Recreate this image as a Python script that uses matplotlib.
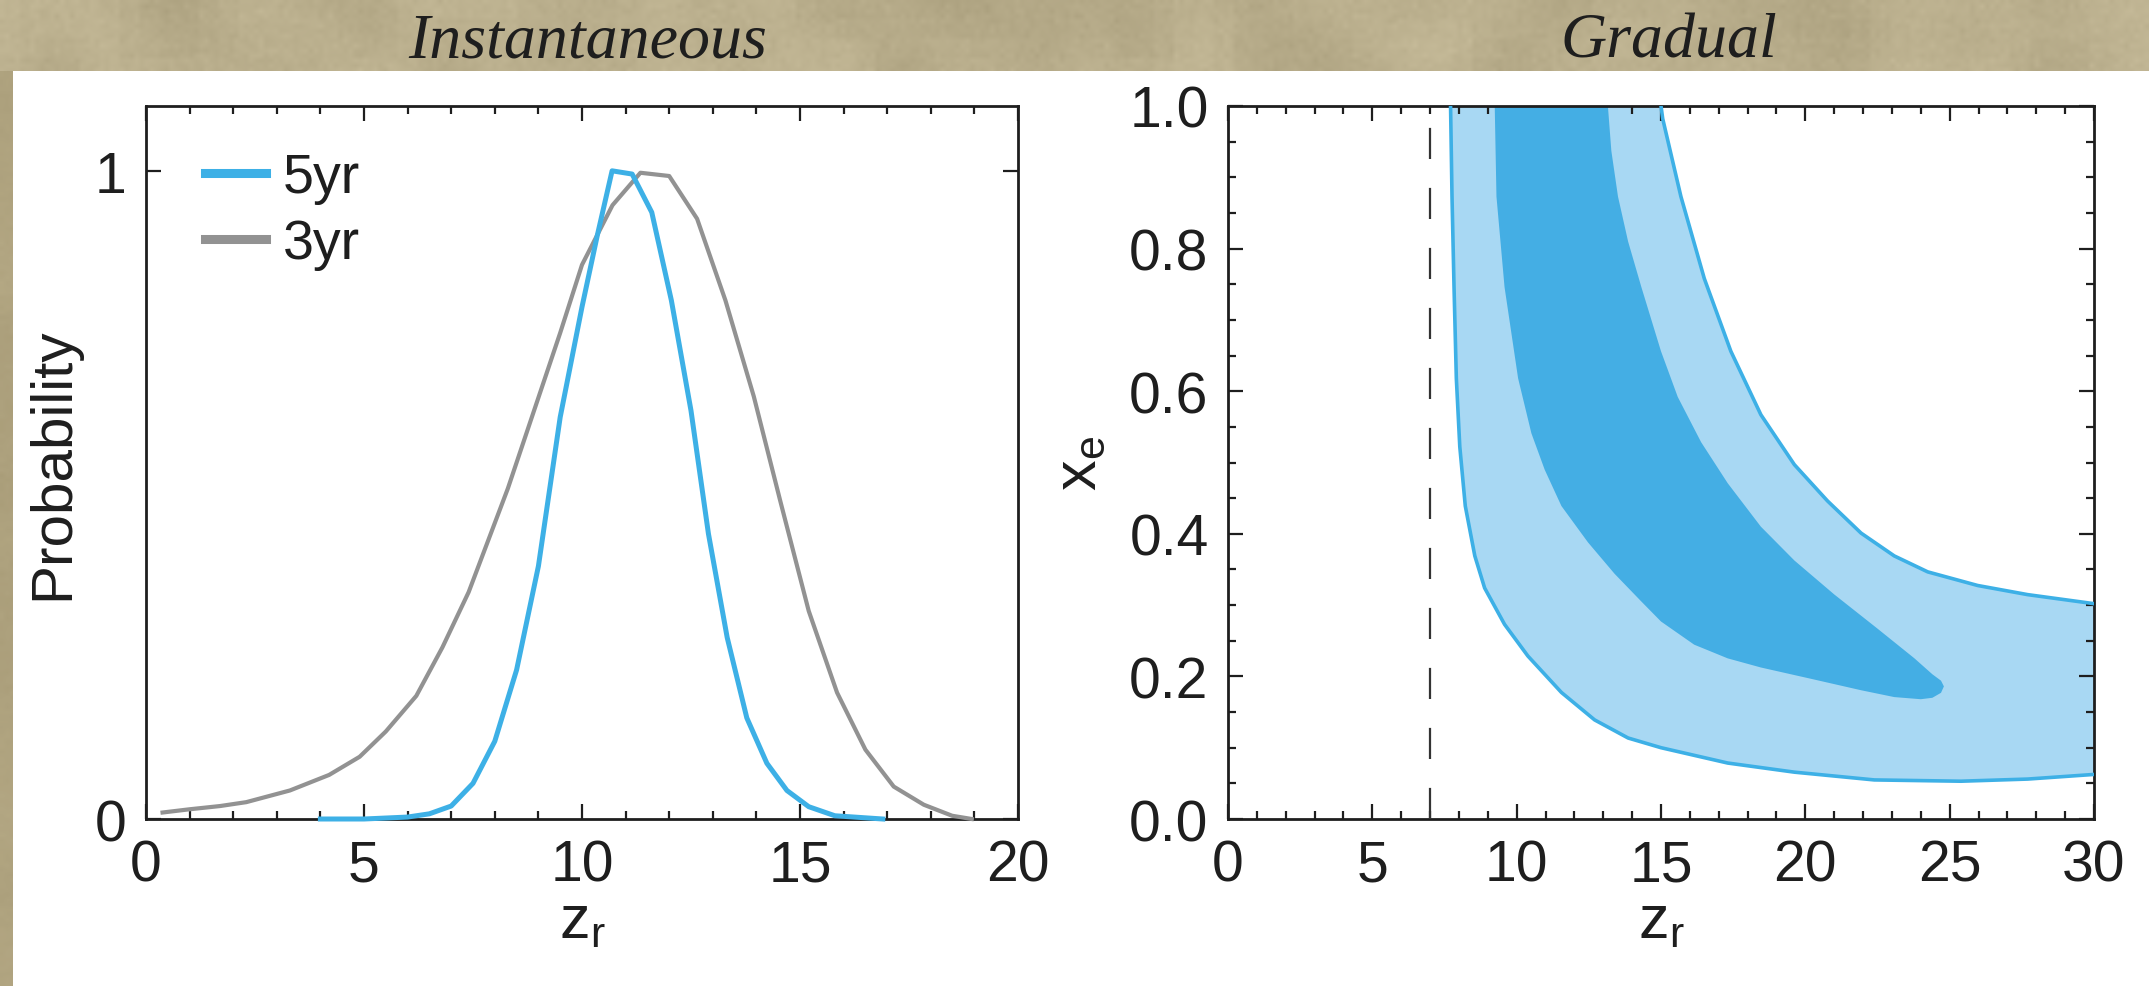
import numpy as np
import matplotlib.pyplot as plt
from matplotlib.patches import Rectangle
from matplotlib.lines import Line2D
from matplotlib.ticker import MultipleLocator

plt.rcParams['font.family'] = ['Liberation Sans', 'DejaVu Sans']
plt.rcParams['mathtext.default'] = 'regular'

# --- probability of reionization redshift (instantaneous model) ---
z_5yr = [4.0, 5.0, 6.0, 6.5, 7.0, 7.5, 8.0, 8.5, 9.0, 9.5, 10.0, 10.35, 10.69,
         11.15, 11.6, 12.05, 12.5, 12.9, 13.33, 13.78, 14.24, 14.7, 15.2, 15.8, 16.9]
p_5yr = [0.0, 0.0, 0.003, 0.008, 0.02, 0.055, 0.12, 0.23, 0.39, 0.62, 0.79, 0.9, 1.0,
         0.995, 0.936, 0.80, 0.63, 0.44, 0.28, 0.156, 0.086, 0.044, 0.019, 0.005, 0.0]

z_3yr = [0.38, 1.0, 1.7, 2.3, 3.3, 4.2, 4.9, 5.5, 6.2, 6.8, 7.4, 8.3, 8.9, 9.5, 10.0,
         10.7, 11.34, 12.0, 12.64, 13.29, 13.94, 14.55, 15.2, 15.85, 16.5, 17.15,
         17.84, 18.49, 18.94]
p_3yr = [0.01, 0.015, 0.02, 0.026, 0.044, 0.068, 0.096, 0.135, 0.19, 0.265, 0.35, 0.51,
         0.63, 0.75, 0.855, 0.947, 0.997, 0.992, 0.926, 0.80, 0.652, 0.49, 0.321, 0.195,
         0.107, 0.05, 0.022, 0.005, 0.0]

# --- x_e vs z_r confidence regions (gradual model) ---
# outer (95%) region: lower-left edge and upper-right edge
outer_lo_z = [7.70, 7.71, 7.76, 7.83, 7.91, 8.03, 8.22, 8.55, 8.89, 9.58, 10.39, 11.55,
              12.7, 13.86, 15.0, 17.31, 19.62, 22.39, 25.39, 27.7, 30.0, 30.5]
outer_lo_xe = [1.02, 1.0, 0.873, 0.746, 0.618, 0.522, 0.439, 0.369, 0.324, 0.273, 0.2285,
               0.1775, 0.139, 0.1136, 0.100, 0.0785, 0.0657, 0.0548, 0.053, 0.056,
               0.0625, 0.064]
outer_hi_z = [30.5, 30.0, 27.7, 25.97, 24.24, 23.08, 21.93, 20.77, 19.62, 18.46, 17.42,
              16.5, 15.69, 15.06, 15.0, 14.98]
outer_hi_xe = [0.299, 0.302, 0.3147, 0.3275, 0.3466, 0.369, 0.401, 0.446, 0.497, 0.567,
               0.656, 0.758, 0.873, 0.982, 1.0, 1.02]

# inner (68%) region, traced as one closed outline
inner_z = [9.24, 9.24, 9.30, 9.58, 10.05, 10.51, 10.97, 11.55, 12.47, 13.39, 14.32, 15.0,
           16.15, 17.31, 18.46, 20.2, 21.93, 23.08, 24.0, 24.4, 24.7, 24.8, 24.7, 24.4,
           23.78, 22.5, 21.0, 19.62, 18.46, 17.31, 16.39, 15.58, 15.0, 14.32, 13.86,
           13.51, 13.28, 13.16, 13.14]
inner_xe = [1.02, 1.0, 0.873, 0.746, 0.618, 0.541, 0.490, 0.439, 0.388, 0.344, 0.305,
            0.277, 0.2445, 0.2253, 0.2125, 0.1966, 0.1806, 0.171, 0.168, 0.170, 0.177,
            0.186, 0.194, 0.203, 0.2253, 0.267, 0.315, 0.3626, 0.41, 0.471, 0.5285,
            0.592, 0.656, 0.746, 0.810, 0.873, 0.937, 1.0, 1.02]

z_ref = 7.0

blue = '#3db0e6'
gray = '#929292'
light = '#a8d8f3'
dark = '#44aee4'
ink = '#1e1e1e'

W, H = 2149, 987
fig = plt.figure(figsize=(W / 100, H / 100), dpi=100)

# parchment backdrop
bg = fig.add_axes([0, 0, 1, 1], zorder=-10)
bg.set_axis_off()
rng = np.random.default_rng(11)
coarse = rng.normal(0, 1, (25, 54))
coarse = np.kron(coarse, np.ones((8, 8)))
for _ in range(3):
    coarse = (coarse + np.roll(coarse, 4, 0) + np.roll(coarse, 4, 1)
              + np.roll(coarse, -4, 0) + np.roll(coarse, -4, 1)) / 5
coarse /= coarse.std()
grain = rng.normal(0, 1, coarse.shape)
base = np.array([0.728, 0.684, 0.552])
tex = base[None, None, :] + (0.016 * coarse + 0.008 * grain)[:, :, None]
bg.imshow(np.clip(tex, 0, 1), extent=[0, 1, 0, 1], aspect='auto',
          interpolation='bilinear', transform=bg.transAxes)
bg.add_patch(Rectangle((0, 0), 13 / W, 1 - 72 / H, transform=bg.transAxes,
                       facecolor=(0.64, 0.59, 0.44), alpha=0.55, edgecolor='none'))
bg.add_patch(Rectangle((13 / W, 0), 1 - 13 / W, 1 - 72 / H, transform=bg.transAxes,
                       facecolor='white', edgecolor='none'))
bg.set_xlim(0, 1)
bg.set_ylim(0, 1)

ax1 = fig.add_axes([146 / W, 1 - 820 / H, 872 / W, 713 / H])
ax2 = fig.add_axes([1228 / W, 1 - 820 / H, 866 / W, 713 / H])


def style(ax):
    for s in ax.spines.values():
        s.set_linewidth(2.0)
        s.set_color(ink)
    ax.tick_params(which='both', direction='in', top=True, right=True, width=1.6,
                   color=ink, labelsize=41, labelcolor=ink, pad=14)
    ax.tick_params(which='major', length=11)
    ax.tick_params(which='minor', length=5.5)


# left panel
ax1.plot(z_3yr, p_3yr, color=gray, lw=3.0, zorder=3, clip_on=False,
         solid_joinstyle='round')
ax1.plot(z_5yr, p_5yr, color=blue, lw=3.6, zorder=4, clip_on=False,
         solid_joinstyle='round')
ax1.set_xlim(0, 20)
ax1.set_ylim(0, 1.1)
ax1.set_xticks([0, 5, 10, 15, 20])
ax1.xaxis.set_minor_locator(MultipleLocator(1))
ax1.set_yticks([0, 1])
ax1.set_yticklabels(['0', '1'])
style(ax1)
ax1.set_ylabel('Probability', fontsize=42, color=ink)
ax1.yaxis.set_label_coords(-0.075, 0.5)
ax1.set_xlabel('z$_{r}$', fontsize=44, color=ink)
ax1.xaxis.set_label_coords(0.5, -0.105)
handles = [Line2D([], [], color=blue, lw=6.5), Line2D([], [], color=gray, lw=6.5)]
ax1.legend(handles, ['5yr', '3yr'], loc='upper left', bbox_to_anchor=(0.068, 0.935),
           frameon=False, fontsize=40, handlelength=1.1, handletextpad=0.3,
           labelspacing=0.25, borderpad=0, borderaxespad=0, labelcolor=ink)

# right panel
ax2.fill(outer_lo_z + outer_hi_z, outer_lo_xe + outer_hi_xe, color=light, lw=0, zorder=1)
ax2.fill(inner_z, inner_xe, color=dark, lw=0, zorder=2)
ax2.plot(outer_lo_z, outer_lo_xe, color=blue, lw=2.6, zorder=3, solid_joinstyle='round')
ax2.plot(outer_hi_z, outer_hi_xe, color=blue, lw=2.6, zorder=3, solid_joinstyle='round')
ax2.plot([z_ref, z_ref], [0, 1], color='#333333', lw=1.6, dashes=(14, 13), zorder=4)
ax2.set_xlim(0, 30)
ax2.set_ylim(0, 1)
ax2.set_xticks([0, 5, 10, 15, 20, 25, 30])
ax2.xaxis.set_minor_locator(MultipleLocator(1))
ax2.set_yticks(np.arange(0, 1.01, 0.2))
ax2.set_yticklabels([f'{v:.1f}' for v in np.arange(0, 1.01, 0.2)])
ax2.yaxis.set_minor_locator(MultipleLocator(0.05))
style(ax2)
ax2.set_ylabel('x$_{e}$', fontsize=44, color=ink)
ax2.yaxis.set_label_coords(-0.138, 0.5)
ax2.set_xlabel('z$_{r}$', fontsize=44, color=ink)
ax2.xaxis.set_label_coords(0.5, -0.105)

# panel headings
for xc, txt in [(588, 'Instantaneous'), (1669, 'Gradual')]:
    fig.text(xc / W, 1 - 58 / H, txt, ha='center', va='baseline', fontsize=46,
             family=['Liberation Serif', 'DejaVu Serif'], style='italic', color=ink)

fig.savefig('out.png', dpi=100)
